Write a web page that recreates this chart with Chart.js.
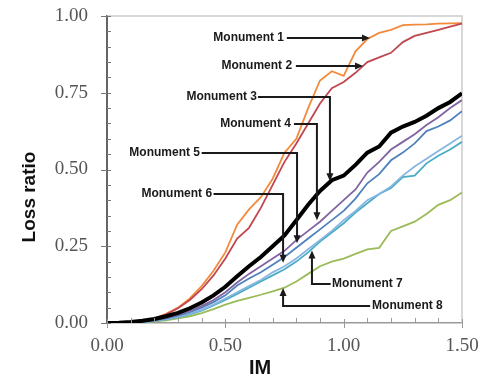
<!DOCTYPE html>
<html>
<head>
<meta charset="utf-8">
<script src="https://cdn.jsdelivr.net/npm/chart.js@4.4.1/dist/chart.umd.min.js"></script>
<style>
  body { margin: 0; background: #fff; }
  canvas { display: block; }
</style>
</head>
<body>
<canvas id="chart" width="490" height="379"></canvas>
<script>
// IM values (x) shared by every curve
const imValues = [0, 0.05, 0.10, 0.15, 0.20, 0.25, 0.30, 0.35, 0.40, 0.45, 0.50, 0.55, 0.60, 0.65, 0.70,
  0.75, 0.80, 0.85, 0.90, 0.95, 1.00, 1.05, 1.10, 1.15, 1.20, 1.25, 1.30, 1.35, 1.40, 1.45, 1.50];

// loss ratio per monument
const monument1 = [0, 0, 0.002, 0.006, 0.015, 0.03, 0.05, 0.08, 0.12, 0.17, 0.23, 0.32, 0.37, 0.41, 0.47,
  0.555, 0.60, 0.70, 0.79, 0.82, 0.805, 0.885, 0.925, 0.945, 0.955, 0.97, 0.972, 0.973, 0.975, 0.976, 0.977];
const monument2 = [0, 0, 0.002, 0.006, 0.014, 0.028, 0.048, 0.075, 0.11, 0.155, 0.21, 0.275, 0.31, 0.375, 0.45,
  0.525, 0.585, 0.65, 0.715, 0.765, 0.785, 0.815, 0.85, 0.865, 0.88, 0.915, 0.935, 0.945, 0.955, 0.965, 0.975];
const monument3 = [0, 0.001, 0.003, 0.007, 0.013, 0.022, 0.033, 0.048, 0.067, 0.09, 0.118, 0.152, 0.185, 0.215, 0.25,
  0.285, 0.335, 0.385, 0.43, 0.465, 0.48, 0.515, 0.555, 0.575, 0.62, 0.64, 0.655, 0.675, 0.70, 0.72, 0.748];
const monument4 = [0, 0, 0.002, 0.005, 0.01, 0.017, 0.027, 0.04, 0.055, 0.075, 0.10, 0.132, 0.16, 0.185, 0.21,
  0.235, 0.27, 0.30, 0.33, 0.365, 0.40, 0.435, 0.49, 0.525, 0.565, 0.59, 0.615, 0.645, 0.67, 0.70, 0.726];
const monument5 = [0, 0, 0.002, 0.004, 0.009, 0.015, 0.024, 0.035, 0.05, 0.068, 0.09, 0.122, 0.145, 0.165, 0.19,
  0.215, 0.245, 0.275, 0.305, 0.335, 0.365, 0.405, 0.455, 0.485, 0.53, 0.555, 0.585, 0.625, 0.64, 0.66, 0.69];
const monument6 = [0, 0, 0.001, 0.004, 0.008, 0.013, 0.02, 0.03, 0.043, 0.06, 0.08, 0.10, 0.12, 0.14, 0.165,
  0.185, 0.21, 0.24, 0.27, 0.30, 0.335, 0.365, 0.40, 0.42, 0.445, 0.48, 0.51, 0.535, 0.56, 0.585, 0.61];
const monument7 = [0, 0, 0.001, 0.003, 0.007, 0.012, 0.019, 0.028, 0.04, 0.057, 0.075, 0.095, 0.115, 0.135, 0.155,
  0.175, 0.20, 0.23, 0.265, 0.295, 0.325, 0.36, 0.39, 0.42, 0.44, 0.475, 0.48, 0.52, 0.545, 0.565, 0.59];
const monument8 = [0, 0, 0.001, 0.002, 0.005, 0.009, 0.015, 0.022, 0.032, 0.045, 0.06, 0.072, 0.082, 0.092, 0.103,
  0.115, 0.135, 0.16, 0.185, 0.20, 0.21, 0.225, 0.24, 0.245, 0.30, 0.315, 0.33, 0.355, 0.385, 0.40, 0.425];

const xTicks = [0, 0.5, 1.0, 1.5];
const yTicks = [0, 0.25, 0.5, 0.75, 1.0];

// callouts, placed in data units (IM, loss ratio)
const callouts = [
  { text: 'Monument 1', at: [0.748, 0.928], align: 'right', path: [[0.76, 0.928], [1.111, 0.928]] },
  { text: 'Monument 2', at: [0.782, 0.837], align: 'right', path: [[0.798, 0.837], [1.082, 0.837]] },
  { text: 'Monument 3', at: [0.634, 0.736], align: 'right', path: [[0.638, 0.736], [0.942, 0.736], [0.942, 0.462]] },
  { text: 'Monument 4', at: [0.777, 0.648], align: 'right', path: [[0.79, 0.648], [0.887, 0.648], [0.887, 0.335]] },
  { text: 'Monument 5', at: [0.393, 0.554], align: 'right', path: [[0.40, 0.554], [0.803, 0.554], [0.803, 0.26]] },
  { text: 'Monument 6', at: [0.444, 0.42], align: 'right', path: [[0.45, 0.42], [0.744, 0.42], [0.744, 0.196]] },
  { text: 'Monument 7', at: [0.951, 0.127], align: 'left', path: [[0.945, 0.127], [0.866, 0.127], [0.866, 0.236]] },
  { text: 'Monument 8', at: [1.12, 0.055], align: 'left', path: [[1.112, 0.055], [0.744, 0.055], [0.744, 0.114]] }
];

function series(label, values, color, width, order) {
  return {
    label: label,
    data: imValues.map((x, i) => ({ x: x, y: values[i] })),
    borderColor: color,
    borderWidth: width,
    pointRadius: 0,
    tension: 0,
    fill: false,
    order: order
  };
}

const overlay = {
  id: 'overlay',
  beforeDatasetsDraw(chart) {
    const { ctx, chartArea: a } = chart;
    ctx.save();
    // light frame on top and right
    ctx.strokeStyle = '#cccccc';
    ctx.lineWidth = 1.5;
    ctx.beginPath();
    ctx.moveTo(a.left, a.top);
    ctx.lineTo(a.right, a.top);
    ctx.lineTo(a.right, a.bottom);
    ctx.stroke();
    ctx.restore();
  },
  afterDraw(chart) {
    const { ctx, chartArea: a } = chart;
    const xs = chart.scales.x, ys = chart.scales.y;
    ctx.save();

    // tick marks: majors cross the axis, minors point inward
    ctx.strokeStyle = '#777';
    ctx.lineWidth = 1;
    for (let i = 0; i <= 20; i++) {
      const py = Math.round(ys.getPixelForValue(i / 20)) + 0.5;
      ctx.beginPath();
      if (i % 5 === 0) { ctx.moveTo(a.left - 6, py); ctx.lineTo(a.left + 4, py); }
      else { ctx.moveTo(a.left, py); ctx.lineTo(a.left + 4, py); }
      ctx.stroke();
    }
    ctx.strokeStyle = '#999';
    for (let i = 0; i <= 15; i++) {
      const px = Math.round(xs.getPixelForValue(i / 10)) + 0.5;
      ctx.beginPath();
      if (i % 5 === 0) { ctx.moveTo(px, a.bottom - 4); ctx.lineTo(px, a.bottom + 5); }
      else { ctx.moveTo(px, a.bottom - 5); ctx.lineTo(px, a.bottom); }
      ctx.stroke();
    }

    // callouts
    ctx.font = 'bold 12px "Liberation Sans", Arial, sans-serif';
    ctx.textBaseline = 'middle';
    ctx.fillStyle = '#1a1a1a';
    ctx.strokeStyle = '#1a1a1a';
    ctx.lineWidth = 2;
    callouts.forEach(c => {
      ctx.textAlign = c.align;
      ctx.fillText(c.text, xs.getPixelForValue(c.at[0]), ys.getPixelForValue(c.at[1]));
      const pts = c.path.map(p => [xs.getPixelForValue(p[0]), ys.getPixelForValue(p[1])]);
      const tip = pts[pts.length - 1], prev = pts[pts.length - 2];
      const ang = Math.atan2(tip[1] - prev[1], tip[0] - prev[0]);
      const len = 8, half = 3.5;
      ctx.beginPath();
      ctx.moveTo(pts[0][0], pts[0][1]);
      for (let i = 1; i < pts.length - 1; i++) ctx.lineTo(pts[i][0], pts[i][1]);
      ctx.lineTo(tip[0] - Math.cos(ang) * len * 0.8, tip[1] - Math.sin(ang) * len * 0.8);
      ctx.stroke();
      ctx.beginPath();
      ctx.moveTo(tip[0], tip[1]);
      ctx.lineTo(tip[0] - Math.cos(ang) * len - Math.sin(ang) * half, tip[1] - Math.sin(ang) * len + Math.cos(ang) * half);
      ctx.lineTo(tip[0] - Math.cos(ang) * len + Math.sin(ang) * half, tip[1] - Math.sin(ang) * len - Math.cos(ang) * half);
      ctx.closePath();
      ctx.fill();
    });

    // axis titles
    ctx.fillStyle = '#111';
    ctx.textAlign = 'center';
    ctx.font = 'bold 19px "Liberation Sans", Arial, sans-serif';
    ctx.save();
    ctx.translate(30, 197);
    ctx.rotate(-Math.PI / 2);
    ctx.fillText('Loss ratio', 0, 0);
    ctx.restore();
    ctx.font = 'bold 20px "Liberation Sans", Arial, sans-serif';
    ctx.fillText('IM', 260, 368);

    ctx.restore();
  }
};

const tickFont = { family: '"Liberation Serif", "Times New Roman", serif', size: 19 };

new Chart(document.getElementById('chart'), {
  type: 'line',
  data: {
    datasets: [
      series('Monument 1', monument1, '#F28A3C', 1.8, 5),
      series('Monument 2', monument2, '#C0474F', 1.8, 4),
      series('Monument 3', monument3, '#000000', 4, 0),
      series('Monument 4', monument4, '#8064A2', 1.8, 1),
      series('Monument 5', monument5, '#4F81BD', 1.8, 2),
      series('Monument 6', monument6, '#86B6E0', 1.8, 3),
      series('Monument 7', monument7, '#4BACC6', 1.8, 3),
      series('Monument 8', monument8, '#9BBB59', 1.8, 6)
    ]
  },
  options: {
    responsive: false,
    animation: false,
    devicePixelRatio: 1,
    layout: { padding: { top: 16, right: 28, left: 0, bottom: 0 } },
    plugins: { legend: { display: false }, tooltip: { enabled: false } },
    scales: {
      x: {
        type: 'linear',
        min: 0,
        max: 1.5,
        afterFit: s => { s.height = 56; s.paddingLeft = 0; s.paddingRight = 0; },
        afterBuildTicks: s => { s.ticks = xTicks.map(v => ({ value: v })); },
        ticks: { font: tickFont, color: '#555', padding: 12, maxRotation: 0,
          callback: v => v.toFixed(2) },
        grid: { display: false, drawTicks: false },
        border: { display: true, color: '#999', width: 1.5 }
      },
      y: {
        min: 0,
        max: 1,
        afterFit: s => { s.width = 107; s.paddingTop = 0; s.paddingBottom = 0; },
        afterBuildTicks: s => { s.ticks = yTicks.map(v => ({ value: v })); },
        ticks: { font: tickFont, color: '#555', padding: 19,
          callback: v => v.toFixed(2) },
        grid: { display: false, drawTicks: false },
        border: { display: true, color: '#666', width: 2 }
      }
    }
  },
  plugins: [overlay]
});
</script>
</body>
</html>
